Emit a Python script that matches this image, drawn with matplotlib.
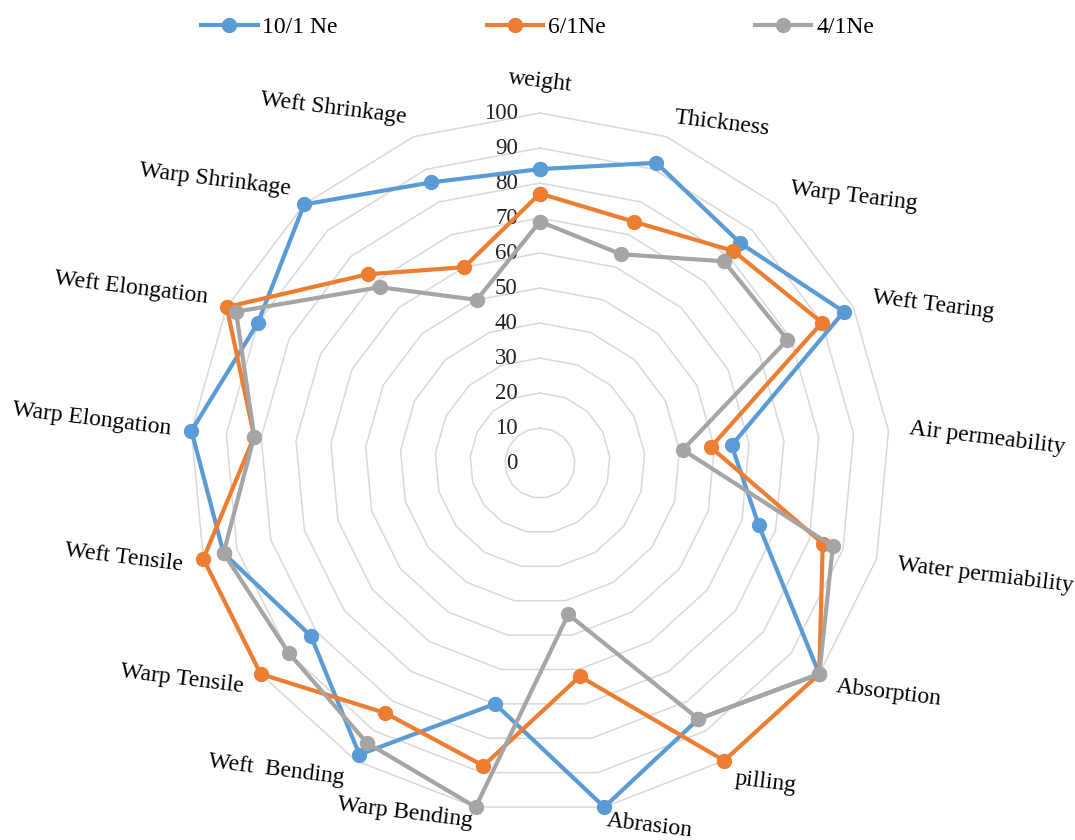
import numpy as np
import matplotlib.pyplot as plt

plt.rcParams['font.family'] = ['Liberation Serif', 'DejaVu Serif']

categories = ['weight', 'Thickness', 'Warp Tearing', 'Weft Tearing', 'Air permeability',
              'Water permiability', 'Absorption', 'pilling', 'Abrasion', 'Warp Bending',
              'Weft  Bending', 'Warp Tensile', 'Weft Tensile', 'Warp Elongation',
              'Weft Elongation', 'Warp Shrinkage', 'Weft Shrinkage']

ne10 = [84, 92, 85, 97, 55, 65, 100, 86, 100, 70, 98, 82, 94, 100, 90, 100, 86]
ne6 = [77, 74, 82, 90, 49, 84, 100, 100, 62, 88, 84, 100, 100, 82, 100, 73, 60]
ne4 = [69, 64, 78, 79, 41, 87, 100, 86, 44, 100, 94, 90, 94, 82, 97, 68, 50]

series_names = ['10/1 Ne', '6/1Ne', '4/1Ne']
colors = ['#5B9BD5', '#ED7D31', '#A5A5A5']
rings = [10, 20, 30, 40, 50, 60, 70, 80, 90, 100]
tick_labels = ['0', '10', '20', '30', '40', '50', '60', '70', '80', '90', '100']

n = len(categories)
theta = np.arange(n) * 2 * np.pi / n
theta_c = np.append(theta, theta[0])

fig = plt.figure(figsize=(10.75, 8.4), dpi=100)
ax = fig.add_axes([0.1767, 0.0321, 0.6512, 0.8333], projection='polar')
ax.set_theta_offset(np.pi / 2)
ax.set_theta_direction(-1)
ax.set_ylim(0, 100)
ax.set_axis_off()

# polygon grid
for r in rings:
    ax.plot(theta_c, [r] * (n + 1), color='#d9d9d9', linewidth=1.1, zorder=1, clip_on=False)

# radial tick labels along top axis
for i, lab in enumerate(tick_labels):
    ax.annotate(lab, xy=(0, i * 10), xytext=(-16, 0), textcoords='offset points',
                ha='right', va='center', fontsize=16.5, color='#222222')

# series
for vals, name, col in zip([ne10, ne6, ne4], series_names, colors):
    v = np.append(vals, vals[0])
    ax.plot(theta_c, v, color=col, linewidth=3, marker='o', markersize=10,
            label=name, zorder=3, clip_on=False)

# category labels
for t, lab in zip(theta, categories):
    s = np.sin(t)
    if abs(s) < 1e-6:
        ax.text(t, 109, lab, ha='center', va='center', fontsize=17,
                rotation=-7, rotation_mode='anchor')
    else:
        ha = 'left' if s > 0 else 'right'
        r = 104 if np.cos(t) < -0.9 else 106
        ax.text(t, r, lab, ha=ha, va='center', fontsize=17,
                rotation=-7, rotation_mode='anchor')

fig.legend(loc='center', bbox_to_anchor=(0.5, 0.967), ncol=3, frameon=False,
           fontsize=17, handlelength=2.4, handletextpad=0.2, columnspacing=6.3)

fig.savefig('out.png', dpi=100)
